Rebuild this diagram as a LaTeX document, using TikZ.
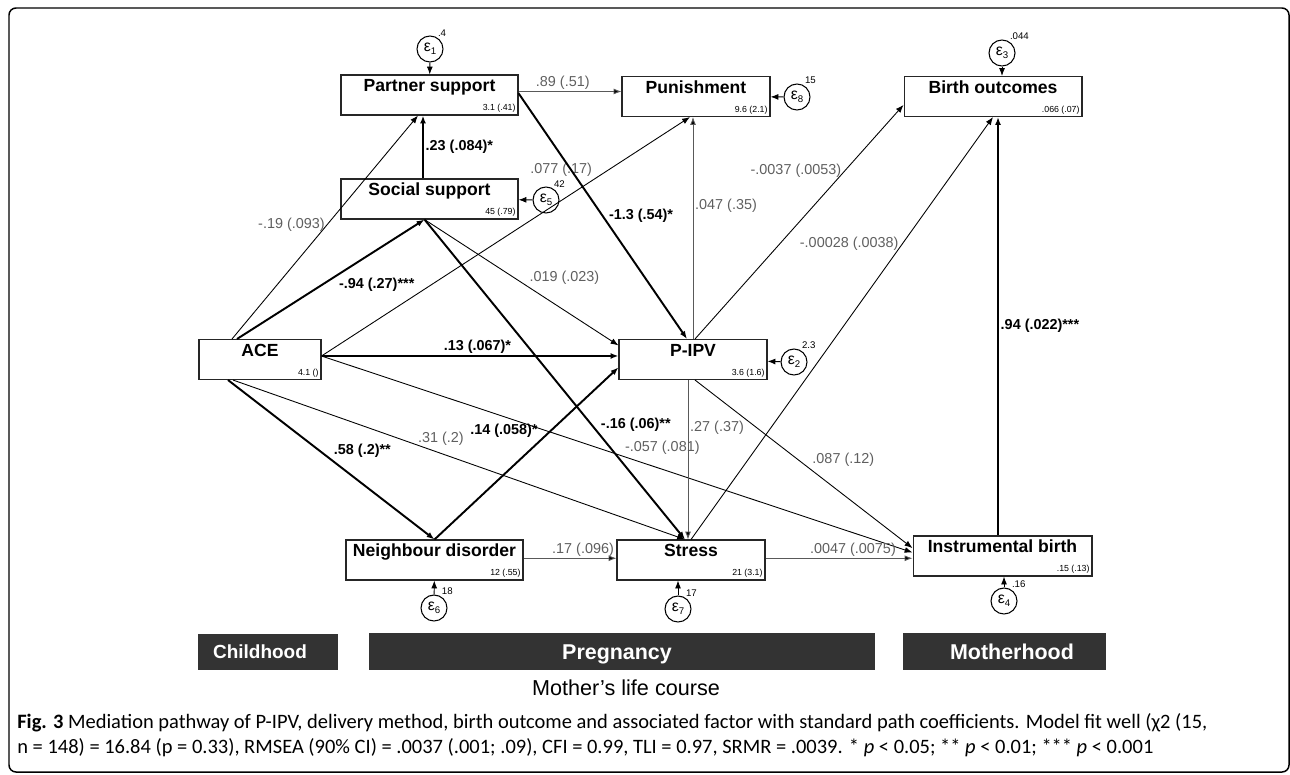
\documentclass[tikz,border=0pt]{standalone}
\usepackage{fontspec}
\setmainfont{Liberation Sans}
\newfontfamily\capfont{Carlito}
\usetikzlibrary{arrows.meta}
\definecolor{coefgray}{RGB}{95,95,95}
\definecolor{bardark}{RGB}{51,51,51}
\newcommand{\erreps}[1]{ε\raisebox{-0.4ex}{\fontsize{5.5}{6}\selectfont #1}}
\tikzset{
  box/.style={draw=black!85, line width=0.6pt, inner sep=0pt,
    text height=0.33cm, text depth=0.47cm, font=\fontsize{10}{12}\selectfont\bfseries},
  val/.style={anchor=south east, inner sep=1.5pt, text height={}, text depth={},
    font=\fontsize{5}{6}\selectfont\mdseries},
  err/.style={circle, draw, line width=0.6pt, minimum size=0.52cm, inner sep=0pt,
    font=\fontsize{9}{9}\selectfont},
  var/.style={inner sep=0.5pt, font=\fontsize{5.5}{6}\selectfont},
  weak/.style={line width=0.5pt},
  gline/.style={line width=0.5pt, draw=black!65},
  strong/.style={line width=1.1pt},
  coef/.style={inner sep=1pt, text=coefgray, font=\fontsize{8.2}{9}\selectfont},
  sigcoef/.style={inner sep=1pt, text=black, font=\fontsize{8.2}{9}\selectfont\bfseries},
  phase/.style={fill=bardark, text=white, inner sep=0pt, text depth=0pt}
}
\begin{document}
\begin{tikzpicture}
[x=0.02cm,y=-0.02cm,>={Latex[length=4.5pt,width=3.4pt]}]
 \useasboundingbox (0,0) rectangle (1290,774);
 \draw[line width=0.85pt, rounded corners=4pt] (9,8) rectangle (1289,772);

 % observed variables
 \node[box, minimum width=3.54cm, label={[val]south east:3.1 (.41)}] (partner) at (429.5,95) {Partner support};
 \node[box, minimum width=3.54cm, label={[val]south east:45 (.79)}] (social) at (429.5,199) {Social support};
 \node[box, minimum width=2.96cm, label={[val]south east:9.6 (2.1)}] (punish) at (696,96.5) {Punishment};
 \node[box, minimum width=3.56cm, label={[val]south east:.066 (.07)}] (birth) at (993,96.5) {Birth outcomes};
 \node[box, minimum width=2.44cm, label={[val]south east:4.1 ()}] (ace) at (260,359.5) {ACE};
 \node[box, minimum width=2.96cm, label={[val]south east:3.6 (1.6)}] (pipv) at (693,359.5) {P-IPV};
 \node[box, minimum width=3.54cm, label={[val]south east:12 (.55)}] (neigh) at (434.5,560) {Neighbour disorder};
 \node[box, minimum width=2.96cm, label={[val]south east:21 (3.1)}] (stress) at (691,560) {Stress};
 \node[box, minimum width=3.58cm, label={[val]south east:.15 (.13)}] (instr) at (1002.5,556) {Instrumental birth};

 % error terms
 \node[err, label={[var]60:.4}] (e1) at (430,49) {\erreps{1}};
 \node[err, label={[var]60:42}] (e5) at (546,200) {\erreps{5}};
 \node[err, label={[var]60:15}] (e8) at (797,97) {\erreps{8}};
 \node[err, label={[var]60:.044}] (e3) at (1002,53) {\erreps{3}};
 \node[err, label={[var]60:2.3}] (e2) at (794,362) {\erreps{2}};
 \node[err, label={[var]60:18}] (e6) at (434,608) {\erreps{6}};
 \node[err, label={[var]60:17}] (e7) at (678,609) {\erreps{7}};
 \node[err, label={[var]60:.16}] (e4) at (1004,601) {\erreps{4}};

 \draw[weak] (e1) edge[->] (partner);
 \draw[weak] (e5) edge[->] (social);
 \draw[weak] (e8) edge[->] (punish);
 \draw[weak] (e3) edge[->] (e3 |- birth.north);
 \draw[weak] (e2) edge[->] (pipv);
 \draw[weak] (e6) edge[->] (neigh);
 \draw[weak] (e7) edge[->] (e7 |- stress.south);
 \draw[weak] (e4) edge[->] (e4 |- instr.south);

 % paths
 \coordinate (psout) at ([yshift=2pt]partner.east);
 \coordinate (ssfoot) at ([xshift=-0.1cm]social.south);
 \coordinate (aceout) at ([yshift=2pt]ace.east);
 \coordinate (stresstop) at ([xshift=-0.12cm]stress.north);
 \coordinate (ndout) at ([yshift=1pt]neigh.east);
 \coordinate (stout) at ([yshift=1pt]stress.east);
 \coordinate (pvfoot) at ([xshift=-0.1cm]pipv.south);
 \coordinate (ibtop) at ([xshift=-0.09cm]instr.north);
 \coordinate (sstop) at ([xshift=-0.13cm]social.north);

 \draw[gline] (psout) edge[->] node[coef, above, pos=.43] {.89 (.51)} (psout -| punish.west);
 \draw[strong] (sstop) edge[->] node[sigcoef, right, pos=.5] {.23 (.084)*} (sstop |- partner.south);
 \draw[weak] ([xshift=-0.56cm]ace.north) edge[->] node[coef, left, pos=.51] {-.19 (.093)} ([xshift=-0.23cm]partner.south);
 \draw[strong] ([xshift=-0.46cm]ace.north) edge[->] node[sigcoef, below right, pos=.53] {-.94 (.27)***} (ssfoot);
 \draw[weak] (aceout) edge[->] node[coef, above left, pos=.74] {.077 (.17)} ([xshift=-0.12cm]punish.south);
 \draw[strong] (aceout) edge[->] node[sigcoef, above, pos=.525] {.13 (.067)*} (aceout -| pipv.west);
 \draw[weak] ([xshift=-0.54cm]ace.south) edge[->] node[coef, above=3pt, pos=.46] {.31 (.2)} (stresstop);
 \draw[weak] (aceout) edge[->] node[coef, above right, pos=.51] {-.057 (.081)} ([yshift=2pt]instr.west);
 \draw[strong] ([xshift=-0.64cm]ace.south) edge[->] node[sigcoef, above right, pos=.5] {.58 (.2)**} (neigh.north);
 \draw[strong] (neigh.north) edge[->] node[sigcoef, above left, pos=.575] {.14 (.058)*} ([yshift=-4.5pt]pipv.west);
 \draw[gline] (ndout) edge[->] node[coef, above, pos=.64] {.17 (.096)} (ndout -| stress.west);
 \draw[weak] (ssfoot) edge[->] node[coef, above right, pos=.53] {.019 (.023)} ([yshift=8pt]pipv.west);
 \draw[strong] (ssfoot) edge[->] node[sigcoef, right=4pt, pos=.64] {-.16 (.06)**} (stresstop);
 \draw[strong] ([yshift=1pt]partner.east) edge[->] node[sigcoef, right=2pt, pos=.5] {-1.3 (.54)*} ([xshift=-0.12cm]pipv.north);
 \draw[gline] (pipv.north) edge[->] node[coef, right, pos=.6] {.047 (.35)} (pipv.north |- punish.south);
 \draw[weak] ([xshift=0.04cm]pipv.north) edge[->] node[coef, left=1pt, pos=.72] {-.0037 (.0053)} ([yshift=-4.8pt]birth.west);
 \draw[weak] (stress.north) edge[->] node[coef, left=1pt, pos=.7] {-.00028 (.0038)} (birth.south);
 \draw[gline] (pvfoot) edge[->] node[coef, right, pos=.3] {.27 (.37)} (pvfoot |- stress.north);
 \draw[weak] ([xshift=0.04cm]pipv.south) edge[->] node[coef, above right, pos=.53] {.087 (.12)} ([yshift=4.5pt]instr.west);
 \draw[gline] (stout) edge[->] node[coef, above, pos=.595] {.0047 (.0075)} (stout -| instr.west);
 \draw[strong] (ibtop) edge[->] node[sigcoef, right, pos=.5] {.94 (.022)***} (ibtop |- birth.south);

 % life course
 \node[phase, minimum width=2.8cm, minimum height=0.72cm, text height=7.8pt, font=\fontsize{10.8}{12}\selectfont\bfseries] (child) at (268,652) {\kern-0.16cm Childhood\kern0.16cm};
 \node[phase, minimum width=10.12cm, minimum height=0.74cm, text height=8.8pt, font=\fontsize{12.2}{14}\selectfont\bfseries] (preg) at (622,651.5) {\kern-0.1cm Pregnancy\kern0.1cm};
 \node[phase, minimum width=4.06cm, minimum height=0.74cm, text height=8.8pt, font=\fontsize{12.2}{14}\selectfont\bfseries] (mother) at (1004.5,651.5) {\kern0.15cm Motherhood\kern-0.15cm};
 \node[font=\fontsize{12.3}{14}\selectfont] (course) at (626,688) {Mother’s life course};

 % caption
 \node[anchor=west, inner sep=0pt, font=\capfont\fontsize{11.65}{13}\selectfont] (cap1) at (17,723)
  {\textbf{Fig. 3} Mediation pathway of P-IPV, delivery method, birth outcome and associated factor with standard path coefficients. Model fit well (χ2 (15,};
 \node[anchor=west, inner sep=0pt, font=\capfont\fontsize{11.65}{13}\selectfont] (cap2) at (17,748)
  {n = 148) = 16.84 (p = 0.33), RMSEA (90\% CI) = .0037 (.001; .09), CFI = 0.99, TLI = 0.97, SRMR = .0039. * \textit{p} < 0.05; ** \textit{p} < 0.01; *** \textit{p} < 0.001};
\end{tikzpicture}
\end{document}
